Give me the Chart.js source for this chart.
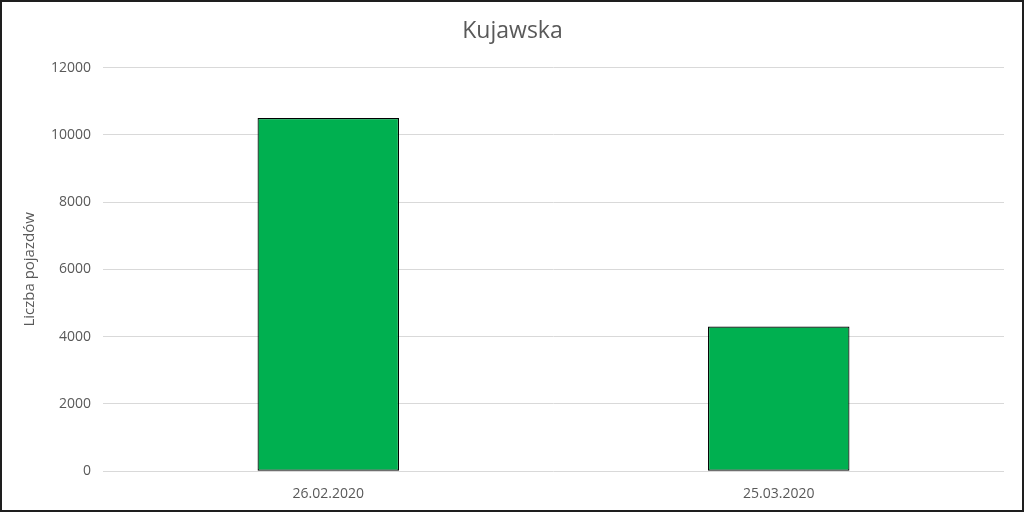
<!DOCTYPE html>
<html>
<head>
	<meta charset="utf-8" />
	<title>Kujawska</title>
	<script src="https://cdn.jsdelivr.net/npm/chart.js@4"></script>
	<style>
		html, body { margin: 0; padding: 0; background: #fff; }
		#frame {
			width: 1024px; height: 512px;
			box-sizing: border-box;
			border: 2px solid #1e1e1e;
		}
	</style>
</head>
<body>

<div id="frame">
	<canvas id="kujawskaChart" width="1020" height="508"></canvas>
</div>

<script>
// data
var dates = ["26.02.2020", "25.03.2020"]
var vehicles = [10500, 4300]
var yTicks = [0, 2000, 4000, 6000, 8000, 10000, 12000]

var grey = "#595959"

new Chart("kujawskaChart", {
	type: "bar",
	data: {
		labels: dates,
		datasets: [{
			data: vehicles,
			backgroundColor: "#00b050",
			borderColor: "#000000",
			borderWidth: 1.2,
			borderSkipped: false,
			barPercentage: 0.314,
			categoryPercentage: 1.0
		}]
	},
	options: {
		responsive: false,
		animation: false,
		layout: { padding: { left: 19, right: 18, top: 6, bottom: 2 } },
		plugins: {
			legend: { display: false },
			tooltip: { enabled: false },
			title: {
				display: true,
				text: "Kujawska",
				color: grey,
				font: { family: "Open Sans", size: 23, weight: "normal" },
				padding: { top: 10, bottom: 22 }
			}
		},
		scales: {
			x: {
				grid: { display: false },
				border: { display: false },
				ticks: {
					color: grey,
					font: { family: "Open Sans", size: 14 },
					padding: 6
				}
			},
			y: {
				min: 0,
				max: 12000,
				afterBuildTicks: function (axis) {
					axis.ticks = yTicks.map(function (v) { return { value: v } })
				},
				grid: { color: "#d9d9d9", lineWidth: 1, drawTicks: false },
				border: { display: false },
				ticks: {
					color: grey,
					font: { family: "Open Sans", size: 14 },
					padding: 12,
					callback: function (v) { return String(v) }
				},
				title: {
					display: true,
					text: "Liczba pojazdów",
					color: grey,
					font: { family: "Open Sans", size: 15 },
					padding: { top: 0, bottom: 0 }
				}
			}
		}
	}
})
</script>

</body>
</html>
